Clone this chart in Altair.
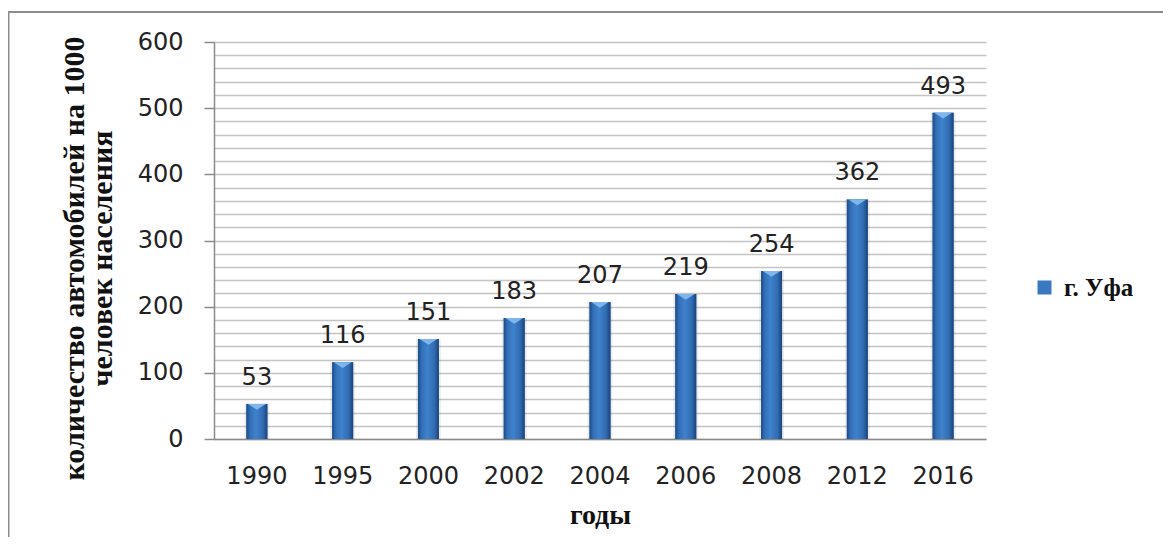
import altair as alt
import pandas as pd

years = ["1990", "1995", "2000", "2002", "2004", "2006", "2008", "2012", "2016"]
values = [53, 116, 151, 183, 207, 219, 254, 362, 493]
series_name = "г. Уфа"
y_ticks = list(range(0, 601, 20))
y_title = ["количество автомобилей на 1000", "\u00a0" * 11 + "человек населения"]
x_title = "годы"

df = pd.DataFrame({"year": years, "value": values, "series": [series_name] * len(years)})

W, H = 772, 397

x_enc = alt.X("year:N", sort=years,
              scale=alt.Scale(paddingInner=0, paddingOuter=0),
              axis=alt.Axis(title=x_title, labelAngle=0, ticks=False,
                            labelFont="DejaVu Sans", labelFontSize=24, labelColor="#222",
                            labelPadding=25, domainColor="#8a8a8a", domainWidth=1.5,
                            titleFont="Liberation Serif", titleFontSize=28, titleFontWeight="bold",
                            titleColor="#111", titleY=84, titleBaseline="alphabetic"))
y_enc = alt.Y("value:Q", scale=alt.Scale(domain=[0, 600], nice=False),
              axis=alt.Axis(title=y_title, values=y_ticks,
                            labelExpr="datum.value % 100 === 0 ? datum.label : ''",
                            labelFont="DejaVu Sans", labelFontSize=24, labelColor="#222",
                            labelPadding=21, tickSize=10, tickColor="#8a8a8a", tickWidth=1.5,
                            tickOpacity={"expr": "datum.value % 100 === 0 ? 1 : 0"},
                            domainColor="#8a8a8a", domainWidth=1.5,
                            grid=True, gridColor="#c4c4c4", gridWidth=1.5,
                            titleFont="Liberation Serif", titleFontSize=30, titleFontWeight="bold",
                            titleColor="#111", titleX=-131, titleY=216, titleAngle=270,
                            titleAlign="center", titleBaseline="alphabetic", titleLineHeight=28))

base = alt.Chart(df)

frame = alt.Chart(alt.Data(values=[{"a": 1}])).mark_rect(
    fill="transparent", stroke="#8c8c8c", strokeWidth=2
).encode(x=alt.value(-205.5), x2=alt.value(1000), y=alt.value(-30), y2=alt.value(700))

shadow = base.mark_bar(size=25, color="#000000", opacity=0.07).encode(x=x_enc, y=y_enc)

bars_legend = base.mark_bar(size=21).encode(
    x=x_enc, y=y_enc,
    color=alt.Color("series:N", scale=alt.Scale(range=["#3a78c0"]),
                    legend=alt.Legend(orient="none", legendX=818, legendY=233, title=None,
                                      padding=0, symbolType="square", symbolSize=196,
                                      symbolStrokeWidth=0, labelFont="Liberation Serif",
                                      labelFontSize=25, labelFontWeight="bold",
                                      labelColor="#111", labelOffset=7))
)

grad = alt.Gradient(
    gradient="linear", x1=0, x2=1, y1=0, y2=0,
    stops=[alt.GradientStop(color="#1d4a86", offset=0),
           alt.GradientStop(color="#3270b8", offset=0.18),
           alt.GradientStop(color="#3f82cc", offset=0.45),
           alt.GradientStop(color="#316cb2", offset=0.78),
           alt.GradientStop(color="#1a4379", offset=1)]
)
bars = base.mark_bar(size=21, color=grad).encode(x=x_enc, y=y_enc)

caps = base.mark_point(shape="M-0.85,0L0.85,0L0,0.55Z", size=441, filled=True,
                       color="#86bdf0", opacity=0.9, strokeWidth=0).encode(x=x_enc, y=y_enc)

labels = base.mark_text(dy=-19, baseline="alphabetic", font="DejaVu Sans",
                        fontSize=24, color="#222").encode(x=x_enc, y=y_enc, text="value:Q")

chart = alt.layer(frame, shadow, bars_legend, bars, caps, labels).properties(
    width=W, height=H,
    autosize=alt.AutoSizeParams(type="none"),
    padding={"left": 206, "top": 34, "right": 177, "bottom": 98},
).configure_view(stroke=None)

chart.save("out.html", embed_options={"renderer": "svg", "actions": False})
